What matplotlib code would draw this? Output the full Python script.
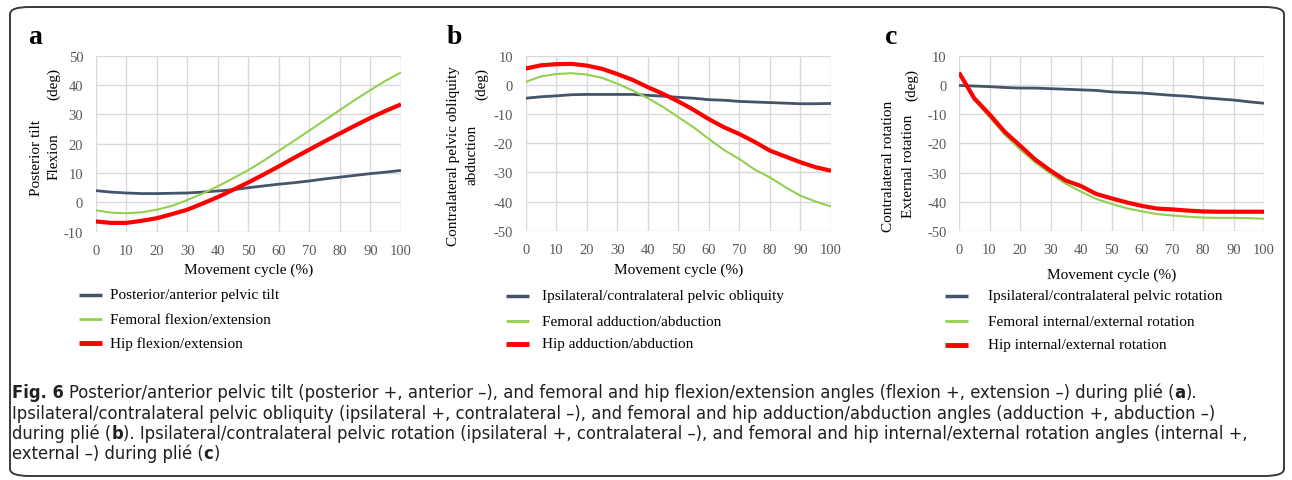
import matplotlib
matplotlib.use('Agg')
import matplotlib.pyplot as plt
from matplotlib.lines import Line2D
from matplotlib.patches import FancyBboxPatch
from matplotlib import font_manager

W, H = 1292, 481
plt.rcParams['axes.unicode_minus'] = False

# x positions (movement cycle %)
cycle = [0, 5, 10, 15, 20, 25, 30, 35, 40, 45, 50, 55, 60, 65, 70, 75, 80, 85, 90, 95, 100]

# panel a: sagittal plane
a_pelvis = [4.0, 3.5, 3.2, 3.0, 3.0, 3.1, 3.2, 3.5, 3.9, 4.3, 5.0, 5.6, 6.2, 6.7, 7.3, 8.0, 8.6, 9.2, 9.8, 10.3, 10.9]
a_femur = [-2.7, -3.5, -3.7, -3.4, -2.5, -1.2, 0.8, 3.0, 5.5, 8.2, 11.0, 14.2, 17.6, 21.0, 24.5, 28.0, 31.5, 35.0, 38.3, 41.5, 44.3]
a_hip = [-6.5, -7.0, -7.0, -6.3, -5.4, -4.0, -2.5, -0.4, 1.8, 4.3, 6.8, 9.5, 12.3, 15.2, 18.0, 20.8, 23.5, 26.2, 28.8, 31.2, 33.4]

# panel b: frontal plane
b_pelvis = [-4.5, -4.0, -3.7, -3.3, -3.2, -3.2, -3.2, -3.2, -3.5, -3.8, -4.2, -4.5, -5.0, -5.2, -5.6, -5.8, -6.0, -6.2, -6.4, -6.4, -6.3]
b_femur = [1.1, 3.0, 3.8, 4.1, 3.6, 2.5, 0.5, -1.8, -4.5, -7.5, -11.0, -14.5, -18.5, -22.3, -25.4, -29.0, -31.7, -35.0, -38.0, -40.0, -41.7]
b_hip = [5.7, 6.8, 7.2, 7.3, 6.7, 5.6, 3.8, 1.8, -0.7, -3.0, -5.6, -8.5, -11.7, -14.5, -16.8, -19.5, -22.5, -24.5, -26.5, -28.2, -29.4]

# panel c: transverse plane
c_pelvis = [-0.1, -0.3, -0.5, -0.8, -1.0, -1.0, -1.2, -1.4, -1.6, -1.8, -2.3, -2.5, -2.7, -3.1, -3.5, -3.8, -4.3, -4.7, -5.1, -5.7, -6.2]
c_femur = [3.8, -5.0, -11.0, -17.0, -22.0, -26.5, -30.3, -33.8, -36.5, -39.0, -40.7, -42.2, -43.3, -44.2, -44.7, -45.1, -45.4, -45.5, -45.5, -45.6, -45.8]
c_hip = [4.3, -4.5, -10.0, -16.0, -20.7, -25.5, -29.3, -32.7, -34.6, -37.3, -38.8, -40.2, -41.4, -42.3, -42.6, -43.0, -43.3, -43.4, -43.4, -43.4, -43.4]

panels = [
    {'tag': 'a', 'series': [a_pelvis, a_femur, a_hip], 'ylim': (-10, 50),
     'labels': ['Posterior/anterior pelvic tilt', 'Femoral flexion/extension', 'Hip flexion/extension']},
    {'tag': 'b', 'series': [b_pelvis, b_femur, b_hip], 'ylim': (-50, 10),
     'labels': ['Ipsilateral/contralateral pelvic obliquity', 'Femoral adduction/abduction', 'Hip adduction/abduction']},
    {'tag': 'c', 'series': [c_pelvis, c_femur, c_hip], 'ylim': (-50, 10),
     'labels': ['Ipsilateral/contralateral pelvic rotation', 'Femoral internal/external rotation', 'Hip internal/external rotation']},
]

colors = ['#44546A', '#92D050', '#FF0000']
widths = [2.0, 1.5, 3.0]

serif = 'Liberation Serif'

# look for a narrow sans font for the caption, else plain Liberation Sans
cap_font, cap_stretch = 'Liberation Sans', 'normal'
for f in font_manager.fontManager.ttflist:
    if 'Serif' in f.name or 'Mono' in f.name:
        continue
    if f.stretch in ('condensed', 'semi-condensed', 'extra-condensed') or 'Narrow' in f.name or 'Condensed' in f.name:
        cap_font, cap_stretch = f.name, f.stretch
        break


def fx(px):
    return px / W


def fy(py):
    return 1 - py / H


fig = plt.figure(figsize=(W / 100, H / 100), dpi=100)

# rounded frame around the figure
frame = FancyBboxPatch((fx(10), fy(477)), fx(1284) - fx(10), fy(8) - fy(477),
                       boxstyle='round,pad=0,rounding_size=0.015', transform=fig.transFigure,
                       facecolor='none', edgecolor='#3a3a3a', linewidth=1.4)
fig.add_artist(frame)

# pixel layout for each panel: axes box, tag, ylabels, legend
layout = [
    {'ax': (95.7, 56.7, 401, 232.7), 'tag': (28, 38), 'xlab': 270,
     'ylab': [('Posterior tilt', 36, 158), ('Flexion', 54, 157), ('(deg)', 54, 84)],
     'leg': (79, 110, [296, 320, 344])},
    {'ax': (525.7, 57, 831, 231.7), 'tag': (447, 38), 'xlab': 270,
     'ylab': [('Contralateral pelvic obliquity', 453, 156), ('abduction', 472, 155), ('(deg)', 482, 84)],
     'leg': (506, 542, [297, 322, 345])},
    {'ax': (959, 57, 1264, 232), 'tag': (885, 38), 'xlab': 275,
     'ylab': [('Contralateral rotation', 889, 166), ('External rotation', 908, 166), ('(deg)', 912, 85)],
     'leg': (945, 988, [297, 322, 346])},
]

for p, lay in zip(panels, layout):
    x0, y0, x1, y1 = lay['ax']
    ax = fig.add_axes([fx(x0), fy(y1), fx(x1) - fx(x0), fy(y0) - fy(y1)])
    lines = []
    for s, c, lw in zip(p['series'], colors, widths):
        ln, = ax.plot(cycle, s, color=c, linewidth=lw, solid_capstyle='butt', zorder=3)
        lines.append(ln)
    ax.set_xlim(0, 100)
    ax.set_ylim(*p['ylim'])
    ax.set_xticks(range(0, 101, 10))
    ax.set_yticks(range(p['ylim'][0], p['ylim'][1] + 1, 10))
    ax.grid(True, color='#D9D9D9', linewidth=1.0)
    ax.set_axisbelow(True)
    for sp in ax.spines.values():
        sp.set_visible(False)
    ax.tick_params(length=0, pad=9, labelsize=10.5, labelcolor='#595959')
    for t in ax.get_xticklabels() + ax.get_yticklabels():
        t.set_fontfamily(serif)

    xm = (x0 + x1) / 2
    fig.text(fx(xm), fy(lay['xlab']), 'Movement cycle (%)', ha='center', va='center',
             fontsize=11, family=serif)
    fig.text(fx(lay['tag'][0]), fy(lay['tag'][1]), p['tag'], ha='left', va='center',
             fontsize=20, fontweight='bold', family=serif)
    for txt, px, py in lay['ylab']:
        fig.text(fx(px), fy(py), txt, ha='center', va='center', rotation=90,
                 fontsize=11, family=serif)

    hx, tx, ys = lay['leg']
    for ln, lab, yy in zip(lines, p['labels'], ys):
        fig.add_artist(Line2D([fx(hx), fx(hx + 23)], [fy(yy), fy(yy)], transform=fig.transFigure,
                              color=ln.get_color(), linewidth=ln.get_linewidth() + 0.5,
                              solid_capstyle='butt'))
        fig.text(fx(tx), fy(yy), lab, ha='left', va='center', fontsize=11, family=serif)

# caption with bold runs
caption = [
    [('Fig. 6', True), (' Posterior/anterior pelvic tilt (posterior +, anterior \u2013), and femoral and hip '
                        'flexion/extension angles (flexion +, extension \u2013) during pli\u00e9 (', False),
     ('a', True), (').', False)],
    [('Ipsilateral/contralateral pelvic obliquity (ipsilateral +, contralateral \u2013), and femoral and hip '
      'adduction/abduction angles (adduction +, abduction \u2013)', False)],
    [('during pli\u00e9 (', False), ('b', True), ('). Ipsilateral/contralateral pelvic rotation (ipsilateral +, '
                                                 'contralateral \u2013), and femoral and hip internal/external '
                                                 'rotation angles (internal +,', False)],
    [('external \u2013) during pli\u00e9 (', False), ('c', True), (')', False)],
]
cap_y = [393, 414, 434, 454]
cap_color = '#231F20'

renderer = fig.canvas.get_renderer()


def put(x, yy, s, size, bold):
    return fig.text(fx(x), fy(yy), s, ha='left', va='center', fontsize=size, family=cap_font,
                    fontstretch=cap_stretch, fontweight='bold' if bold else 'normal', color=cap_color)


def line_width(runs, size):
    w = 0
    for s, bold in runs:
        t = put(0, 0, s, size, bold)
        w += t.get_window_extent(renderer).width
        t.remove()
    return w


# size the caption so line 1 ends where the reference's does, keeping all lines inside the frame
base = 12
cap_size = base * (1202 - 12) / line_width(caption[0], base)
cap_size = min([cap_size] + [base * (1272 - 12) / line_width(r, base) for r in caption[1:3]])
t1 = put(0, 0, 'a a', cap_size, False)
t2 = put(0, 0, 'aa', cap_size, False)
space_w = t1.get_window_extent(renderer).width - t2.get_window_extent(renderer).width
t1.remove()
t2.remove()

for runs, yy in zip(caption, cap_y):
    x = 12
    for s, bold in runs:
        if s.startswith(' '):
            x += space_w
            s = s.lstrip(' ')
        t = put(x, yy, s, cap_size, bold)
        x += t.get_window_extent(renderer).width

fig.savefig('out.png', dpi=100)
